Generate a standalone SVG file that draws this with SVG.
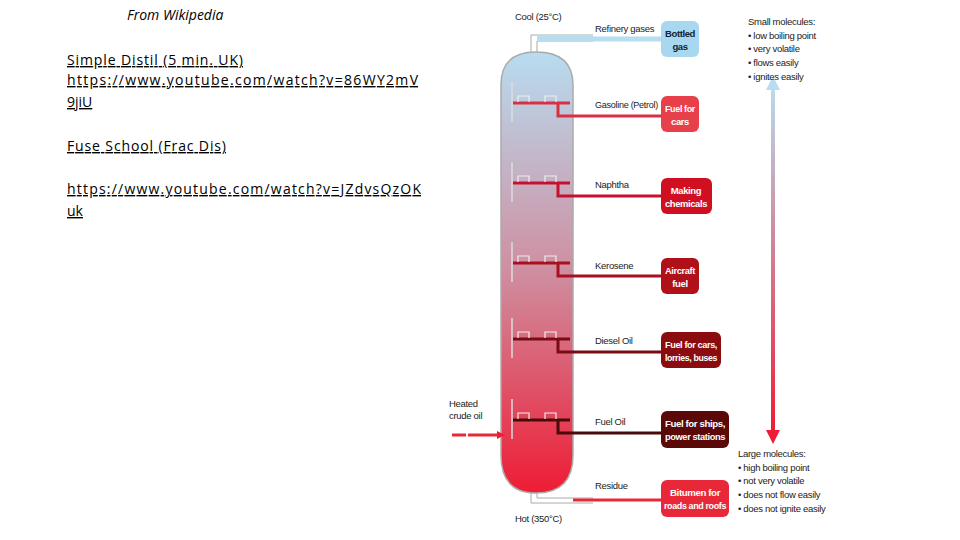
<svg xmlns="http://www.w3.org/2000/svg" width="960" height="540" viewBox="0 0 960 540">
<defs>
<linearGradient id="tg" x1="0" y1="0" x2="0" y2="1"><stop offset="0" stop-color="#b8dcf0"/><stop offset="0.5" stop-color="#cf8ea0"/><stop offset="1" stop-color="#ee1c34"/></linearGradient>
<linearGradient id="ag" x1="0" y1="0" x2="0" y2="1"><stop offset="0" stop-color="#b8dcf0"/><stop offset="1" stop-color="#ee1c34"/></linearGradient>
<marker id="ah" markerWidth="8" markerHeight="8" refX="4" refY="4" orient="auto" markerUnits="userSpaceOnUse"><path d="M0,0 L8,4 L0,8 z" fill="#ee1c34"/></marker>
</defs>
<style>
.l{font-family:"Open Sans","Liberation Sans",sans-serif;font-size:14px;fill:#000}
.u{text-decoration:underline}
.t{font-family:"Liberation Sans",sans-serif;font-size:9.5px;fill:#222;letter-spacing:-0.3px}
.b{font-family:"Liberation Sans",sans-serif;font-size:9.5px;font-weight:bold;fill:#fff;text-anchor:middle;letter-spacing:-0.4px}
.pw{fill:none;stroke:#aaa;stroke-width:1}
.tr{stroke-width:3;fill:none}
</style>
<rect width="960" height="540" fill="#fff"/>
<g id="links">
<text class="l" x="127" y="20" font-style="italic">From Wikipedia</text>
<text class="l u" x="67" y="65" textLength="176" lengthAdjust="spacing">Simple Distil (5 min. UK)</text>
<text class="l u" x="67" y="85" textLength="351" lengthAdjust="spacing">https://www.youtube.com/watch?v=86WY2mV</text>
<text class="l u" x="67" y="107">9jiU</text>
<text class="l u" x="67" y="151" textLength="159" lengthAdjust="spacing">Fuse School (Frac Dis)</text>
<text class="l u" x="67" y="194" textLength="354" lengthAdjust="spacing">https://www.youtube.com/watch?v=JZdvsQzOK</text>
<text class="l u" x="67" y="216">uk</text>
</g>
<g id="tower">
<path d="M501,85 Q501,52 536,52 Q573,52 573,85 L573,455 Q573,493 536,493 Q501,493 501,455 Z" fill="url(#tg)" stroke="#aaa" stroke-width="1.5"/>
<path d="M531,52 V35 H593 M537,52 V41 H593" class="pw"/>
<rect x="537" y="36" width="56" height="5" fill="#b8dcf0"/>
<path d="M531,493 V503 H593 M537,493 V498 H593" class="pw"/>
<text class="t" x="515" y="20">Cool (25°C)</text>
<text class="t" x="515" y="522">Hot (350°C)</text>
</g>
<g id="trays">
<g stroke="#ddd" fill="none" stroke-width="1.5">
<path d="M512,82 V122"/><path d="M512,162 V202"/><path d="M512,242 V282"/><path d="M512,318 V358"/><path d="M512,399 V439"/>
</g>
<g class="tr">
<path d="M513,103 H570 M558,103 V116 H593" stroke="#d83040"/>
<path d="M513,183 H570 M558,183 V196 H593" stroke="#c8102e"/>
<path d="M513,263 H570 M558,263 V276 H593" stroke="#a81020"/>
<path d="M513,339 H570 M558,339 V352 H593" stroke="#7a0a14"/>
<path d="M513,420 H570 M558,420 V433 H593" stroke="#4a0808"/>
</g>
<g fill="none" stroke="#eee" stroke-width="1.2">
<path d="M518,102 V96 H529 V102 M545,102 V96 H556 V102"/>
<path d="M518,182 V176 H529 V182 M545,182 V176 H556 V182"/>
<path d="M518,262 V256 H529 V262 M545,262 V256 H556 V262"/>
<path d="M518,338 V332 H529 V338 M545,338 V332 H556 V338"/>
<path d="M518,419 V413 H529 V419 M545,419 V413 H556 V419"/>
</g>
</g>
<g id="connectors">
<path d="M593,39 H661" stroke="#b8dcf0" stroke-width="5"/>
<path d="M593,116 H661" stroke="#d83040" stroke-width="3"/>
<path d="M593,196 H661" stroke="#c8102e" stroke-width="3"/>
<path d="M593,276 H661" stroke="#a81020" stroke-width="3"/>
<path d="M593,352 H661" stroke="#7a0a14" stroke-width="3"/>
<path d="M593,433 H661" stroke="#4a0808" stroke-width="3"/>
<path d="M573,500 H661" stroke="#e82838" stroke-width="3"/>
<path d="M452,435 H466 M468,435 H501" stroke="#e82838" stroke-width="3" marker-end="url(#ah)"/>
<rect x="771" y="86" width="4" height="346" fill="url(#ag)"/>
<path d="M773,76 L766,90 H780 Z" fill="#b8dcf0"/>
<path d="M773,444 L766,430 H780 Z" fill="#ee1c34"/>
</g>
<g id="labels">
<text class="t" x="595" y="32">Refinery gases</text>
<text class="t" x="595" y="108" textLength="63" lengthAdjust="spacingAndGlyphs">Gasoline (Petrol)</text>
<text class="t" x="595" y="188">Naphtha</text>
<text class="t" x="595" y="269">Kerosene</text>
<text class="t" x="595" y="344">Diesel Oil</text>
<text class="t" x="595" y="425">Fuel Oil</text>
<text class="t" x="595" y="489">Residue</text>
<text class="t" x="449" y="407">Heated</text>
<text class="t" x="449" y="419">crude oil</text>
<text class="t" x="748" y="25">Small molecules:</text>
<text class="t" x="748" y="39">• low boiling point</text>
<text class="t" x="748" y="52">• very volatile</text>
<text class="t" x="748" y="66">• flows easily</text>
<text class="t" x="748" y="80">• ignites easily</text>
<text class="t" x="738" y="457">Large molecules:</text>
<text class="t" x="738" y="471">• high boiling point</text>
<text class="t" x="738" y="484">• not very volatile</text>
<text class="t" x="738" y="498">• does not flow easily</text>
<text class="t" x="738" y="512">• does not ignite easily</text>
</g>
<g id="box-gas"><rect x="661" y="21" width="38" height="36" rx="6" fill="#a8d8f0"/><text class="b" x="680" y="37" style="fill:#123" textLength="30" lengthAdjust="spacingAndGlyphs">Bottled</text><text class="b" x="680" y="50" style="fill:#123">gas</text></g>
<g id="box-cars"><rect x="661" y="96" width="38" height="36" rx="6" fill="#e8404a"/><text class="b" x="680" y="112" textLength="30" lengthAdjust="spacingAndGlyphs">Fuel for</text><text class="b" x="680" y="125">cars</text></g>
<g id="box-chem"><rect x="661" y="178" width="51" height="36" rx="6" fill="#d01020"/><text class="b" x="686" y="194">Making</text><text class="b" x="686" y="207" textLength="42" lengthAdjust="spacingAndGlyphs">chemicals</text></g>
<g id="box-air"><rect x="661" y="258" width="38" height="36" rx="6" fill="#b01018"/><text class="b" x="680" y="274" textLength="30" lengthAdjust="spacingAndGlyphs">Aircraft</text><text class="b" x="680" y="287">fuel</text></g>
<g id="box-diesel"><rect x="661" y="332" width="60" height="36" rx="6" fill="#8a0c10"/><text class="b" x="691" y="348" textLength="52" lengthAdjust="spacingAndGlyphs">Fuel for cars,</text><text class="b" x="691" y="361" textLength="52" lengthAdjust="spacingAndGlyphs">lorries, buses</text></g>
<g id="box-ship"><rect x="661" y="411" width="68" height="37" rx="6" fill="#5a0808"/><text class="b" x="695" y="427" textLength="60" lengthAdjust="spacingAndGlyphs">Fuel for ships,</text><text class="b" x="695" y="440" textLength="60" lengthAdjust="spacingAndGlyphs">power stations</text></g>
<g id="box-bit"><rect x="661" y="480" width="68" height="37" rx="6" fill="#e82838"/><text class="b" x="695" y="496" textLength="50" lengthAdjust="spacingAndGlyphs">Bitumen for</text><text class="b" x="695" y="509" textLength="62" lengthAdjust="spacingAndGlyphs">roads and roofs</text></g>
</svg>
